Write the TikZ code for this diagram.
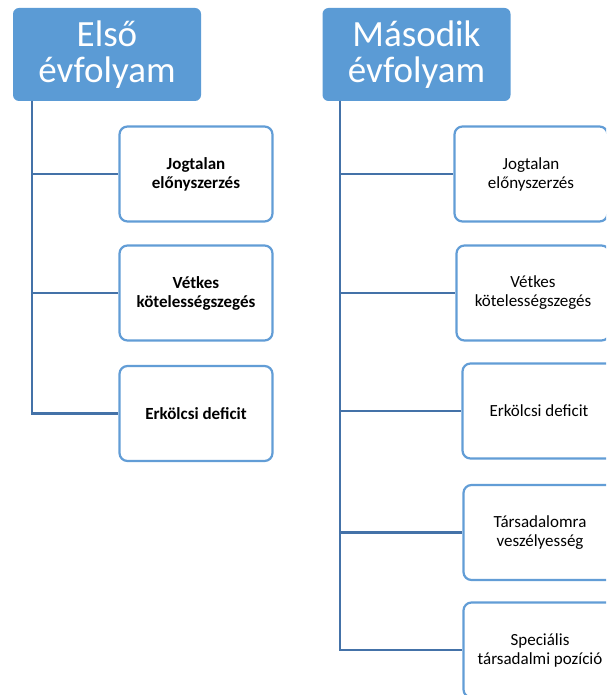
\documentclass[tikz,border=0pt]{standalone}
\usepackage{fontspec}
\setmainfont{Carlito}
\definecolor{hdrblue}{RGB}{91,155,213}
\definecolor{boxblue}{RGB}{98,157,214}
\definecolor{linkblue}{RGB}{68,114,168}
\begin{document}
\begin{tikzpicture}[x=1pt, y=-1pt]

    \tikzset{header/.style={rectangle, rounded corners=6pt, fill=hdrblue, text=white,
        minimum width=188pt, minimum height=93pt, align=center,
        font=\fontsize{37}{36}\selectfont}}
    \tikzset{itembox/.style={rectangle, rounded corners=8pt, draw=boxblue, line width=2.2pt,
        fill=white, minimum width=153pt, minimum height=95pt, align=center,
        font=\fontsize{17}{19}\selectfont}}

    \useasboundingbox (0,0) rectangle (606,695);
    \clip (0,0) rectangle (606,695);

    \node[header] (h1) at (107, 54.5) {Első\\évfolyam};
    \node[header] (h2) at (416.5, 54.5) {Második\\évfolyam};

    \node[itembox] (a1) at (196, 174) {\bfseries Jogtalan\\\bfseries előnyszerzés};
    \node[itembox] (a2) at (196, 293) {\bfseries Vétkes\\\bfseries kötelességszegés};
    \node[itembox] (a3) at (196, 413.5) {\bfseries Erkölcsi deficit};

    \node[itembox] (b1) at (531, 174) {Jogtalan\\előnyszerzés};
    \node[itembox] (b2) at (533, 293) {Vétkes\\kötelességszegés};
    \node[itembox] (b3) at (539, 411) {Erkölcsi deficit};
    \node[itembox] (b4) at (540, 532.5) {Társadalomra\\veszélyesség};
    \node[itembox] (b5) at (540, 650) {Speciális\\társadalmi pozíció};

    \coordinate (t1) at (32, 101);
    \coordinate (t2) at (340, 101);

    \begin{scope}[every path/.style={draw=linkblue, line width=2.2pt}]
        \draw (t1) |- (a1.west);
        \draw (t1) |- (a2.west);
        \draw (t1) |- (a3.west);

        \draw (t2) |- (b1.west);
        \draw (t2) |- (b2.west);
        \draw (t2) |- (b3.west);
        \draw (t2) |- (b4.west);
        \draw (t2) |- (b5.west);
    \end{scope}

\end{tikzpicture}
\end{document}
